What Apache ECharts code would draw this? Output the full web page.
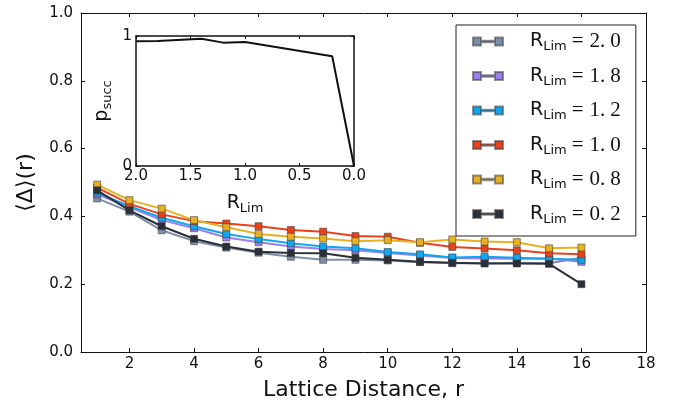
<!DOCTYPE html>
<html>
<head>
<meta charset="utf-8">
<script src="https://cdn.jsdelivr.net/npm/echarts@6/dist/echarts.min.js"></script>
<style>
html,body{margin:0;padding:0;background:#fff;}
#main{width:674px;height:407px;}
</style>
</head>
<body>
<div id="main"></div>
<script>
// lattice distance r
var distances = [1,2,3,4,5,6,7,8,9,10,11,12,13,14,15,16];
var rLimNames = ['2.0','1.8','1.2','1.0','0.8','0.2'];
var rLimColors = ['#7d8fa8','#9a80ec','#12a6ee','#e8421c','#e6b022','#2b2f38'];

var delta20 = [0.453,0.414,0.359,0.327,0.308,0.293,0.281,0.272,0.272,0.270,0.265,0.262,0.262,0.263,0.262,0.278];
var delta18 = [0.465,0.427,0.389,0.365,0.338,0.324,0.311,0.304,0.300,0.292,0.285,0.277,0.276,0.275,0.276,0.266];
var delta12 = [0.470,0.430,0.396,0.371,0.348,0.333,0.321,0.311,0.306,0.295,0.288,0.279,0.281,0.278,0.275,0.272];
var delta10 = [0.485,0.437,0.406,0.386,0.379,0.371,0.360,0.355,0.342,0.340,0.322,0.310,0.305,0.300,0.291,0.288];
var delta08 = [0.494,0.448,0.423,0.389,0.368,0.348,0.340,0.335,0.327,0.330,0.324,0.332,0.326,0.324,0.306,0.308];
var delta02 = [0.477,0.418,0.371,0.334,0.311,0.296,0.292,0.291,0.278,0.272,0.266,0.263,0.261,0.261,0.260,0.200];
var allDelta = [delta20,delta18,delta12,delta10,delta08,delta02];

// inset: success probability vs R_Lim
var insetR = [2.0,1.8,1.4,1.2,1.0,0.2,0.0];
var insetP = [0.959,0.962,0.979,0.949,0.954,0.844,0.0];

var xTicks = [2,4,6,8,10,12,14,16,18];

var myChart = echarts.init(document.getElementById('main'));

var series = [];
for(var i=0;i<rLimNames.length;i++){
    var pts = [];
    for(var j=0;j<distances.length;j++){
        pts.push([distances[j], allDelta[i][j]]);
    }
    series.push({
        name: rLimNames[i],
        type: 'line',
        xAxisIndex: 0,
        yAxisIndex: 0,
        data: pts,
        symbol: 'rect',
        symbolSize: 7,
        lineStyle: {width: 2, color: rLimColors[i]},
        itemStyle: {color: rLimColors[i], borderColor: 'rgba(60,60,60,0.55)', borderWidth: 1},
        z: 2 + i
    });
}
var insetPts = [];
for(var k=0;k<insetR.length;k++){
    insetPts.push([insetR[k], insetP[k]]);
}
series.push({
    name: 'psucc',
    type: 'line',
    xAxisIndex: 2,
    yAxisIndex: 2,
    data: insetPts,
    symbol: 'none',
    lineStyle: {width: 2, color: '#111'},
    z: 20
});

var subRich = {
    r: {fontFamily: 'DejaVu Sans', fontSize: 19, color: '#111', lineHeight: 24},
    s: {fontFamily: 'DejaVu Sans', fontSize: 13, color: '#111', verticalAlign: 'bottom', lineHeight: 14}
};

function frameAxis(extra){
    var ax = {
        type: 'value',
        axisLine: {onZero: false, lineStyle: {color: '#111', width: 1}},
        axisTick: {inside: true, length: 4, lineStyle: {color: '#111'}},
        axisLabel: {show: false},
        splitLine: {show: false}
    };
    for(var key in extra){ ax[key] = extra[key]; }
    return ax;
}

var option = {
    animation: false,
    backgroundColor: '#fff',
    grid: [
        {left: 81, top: 13, width: 565, height: 339},
        {left: 136, top: 36, width: 218, height: 130, show: true, backgroundColor: '#fff', borderWidth: 0, z: 10}
    ],
    legend: {
        data: rLimNames,
        orient: 'vertical',
        left: 456,
        top: 25,
        padding: [6, 15, 10, 16],
        itemGap: 12,
        itemWidth: 30,
        itemHeight: 8,
        icon: 'path://M0,0h8v8h-8zM22,0h8v8h-8zM8,3.2h14v1.6h-14z',
        backgroundColor: '#fff',
        borderColor: '#222',
        borderWidth: 1,
        borderRadius: 0,
        formatter: function(name){
            var parts = name.split('.');
            return '{r|R}{s|Lim}{e|=}{v|' + parts[0] + '.}{w|' + parts[1] + '}';
        },
        textStyle: {
            rich: {
                r: {fontFamily: 'DejaVu Sans', fontSize: 19, color: '#111', padding: [0,0,0,22], lineHeight: 24},
                s: {fontFamily: 'DejaVu Sans', fontSize: 13, color: '#111', verticalAlign: 'bottom', lineHeight: 14},
                e: {fontFamily: 'Liberation Serif', fontSize: 21, color: '#111', padding: [0,6,0,5], lineHeight: 24},
                v: {fontFamily: 'Liberation Serif', fontSize: 21, color: '#111', lineHeight: 24},
                w: {fontFamily: 'Liberation Serif', fontSize: 21, color: '#111', padding: [0,0,0,5], lineHeight: 24}
            }
        },
        z: 30
    },
    xAxis: [
        frameAxis({
            gridIndex: 0, min: 0.5, max: 18,
            name: 'Lattice Distance, r', nameLocation: 'middle', nameGap: 27,
            nameTextStyle: {fontFamily: 'DejaVu Sans', fontSize: 22, color: '#111'},
            axisTick: {inside: true, length: 4, customValues: xTicks, lineStyle: {color: '#111'}},
            axisLabel: {customValues: xTicks, margin: 5, fontFamily: 'DejaVu Sans', fontSize: 15, color: '#111'}
        }),
        frameAxis({
            gridIndex: 0, min: 0.5, max: 18, position: 'top',
            axisTick: {inside: true, length: 4, customValues: xTicks, lineStyle: {color: '#111'}}
        }),
        frameAxis({
            gridIndex: 1, min: 0, max: 2, interval: 0.5, inverse: true,
            name: '{r|R}{s|Lim}', nameLocation: 'middle', nameGap: 25,
            nameTextStyle: {rich: subRich},
            axisLine: {onZero: false, lineStyle: {color: '#111', width: 1.5}},
            axisTick: {inside: true, length: 3, lineStyle: {color: '#111'}},
            axisLabel: {margin: 3, fontFamily: 'DejaVu Sans', fontSize: 15, color: '#111',
                formatter: function(v){ return v.toFixed(1); }},
            z: 12
        }),
        frameAxis({
            gridIndex: 1, min: 0, max: 2, interval: 0.5, inverse: true, position: 'top',
            axisLine: {onZero: false, lineStyle: {color: '#111', width: 1.5}},
            axisTick: {inside: true, length: 3, lineStyle: {color: '#111'}},
            z: 12
        })
    ],
    yAxis: [
        frameAxis({
            gridIndex: 0, min: 0, max: 1, interval: 0.2,
            name: '\u27E8\u0394\u27E9(r)', nameLocation: 'middle', nameGap: 44,
            nameTextStyle: {fontFamily: 'DejaVu Sans', fontSize: 22, color: '#111'},
            axisLabel: {margin: 8, fontFamily: 'DejaVu Sans', fontSize: 15, color: '#111',
                formatter: function(v){ return v.toFixed(1); }}
        }),
        frameAxis({
            gridIndex: 0, min: 0, max: 1, interval: 0.2, position: 'right'
        }),
        frameAxis({
            gridIndex: 1, min: 0, max: 1, interval: 1,
            name: '{r|p}{s|succ}', nameLocation: 'middle', nameGap: 22, nameRotate: 90,
            nameTextStyle: {rich: subRich},
            axisLine: {onZero: false, lineStyle: {color: '#111', width: 1.5}},
            axisTick: {inside: true, length: 3, lineStyle: {color: '#111'}},
            axisLabel: {margin: 4, fontFamily: 'DejaVu Sans', fontSize: 15, color: '#111'},
            z: 12
        }),
        frameAxis({
            gridIndex: 1, min: 0, max: 1, interval: 1, position: 'right',
            axisLine: {onZero: false, lineStyle: {color: '#111', width: 1.5}},
            axisTick: {inside: true, length: 3, lineStyle: {color: '#111'}},
            z: 12
        })
    ],
    series: series
};
myChart.setOption(option);
</script>
</body>
</html>
